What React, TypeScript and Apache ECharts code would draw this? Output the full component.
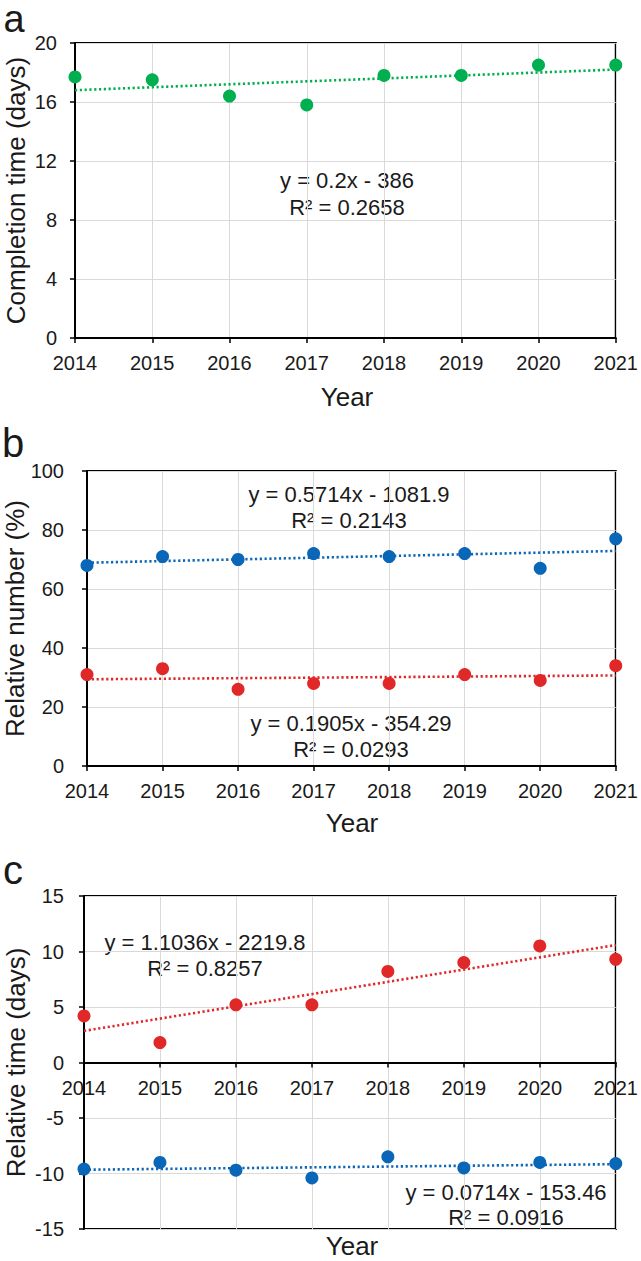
import React, { useEffect, useRef } from "react";
import * as echarts from "echarts";

const years = [2014, 2015, 2016, 2017, 2018, 2019, 2020, 2021];
const completionTime = [17.7, 17.5, 16.4, 15.8, 17.8, 17.8, 18.5, 18.5];
const relNumberBlue = [68, 71, 70, 72, 71, 72, 67, 77];
const relNumberRed = [31, 33, 26, 28, 28, 31, 29, 34];
const relTimeRed = [4.2, 1.8, 5.2, 5.2, 8.2, 9.0, 10.5, 9.3];
const relTimeBlue = [-9.6, -9.0, -9.7, -10.4, -8.5, -9.5, -9.0, -9.1];

// trendline end values (at 2014 and 2021)
const trendYears = [2014, 2021];
const trendA = [16.8, 18.2];
const trendBBlue = [68.9, 72.9];
const trendBRed = [29.4, 30.7];
const trendCRed = [2.85, 10.58];
const trendCBlue = [-9.66, -9.16];

const eqA = ["y = 0.2x - 386", "R² = 0.2658"];
const eqBBlue = ["y = 0.5714x - 1081.9", "R² = 0.2143"];
const eqBRed = ["y = 0.1905x - 354.29", "R² = 0.0293"];
const eqCRed = ["y = 1.1036x - 2219.8", "R² = 0.8257"];
const eqCBlue = ["y = 0.0714x - 153.46", "R² = 0.0916"];

const GREEN = "#00AF50";
const BLUE = "#0A66B6";
const RED = "#E12828";
const FONT = "'Liberation Sans', Arial, sans-serif";
const TXT = "#1a1a1a";
const GRIDC = "#d9d9d9";

const pair = (xs: number[], ys: number[]) => xs.map((x, i) => [x, ys[i]]);

function xAxisCfg(gridIndex: number, offset: number) {
  return {
    type: "value",
    gridIndex,
    position: "bottom",
    offset,
    min: 2014,
    max: 2021,
    interval: 1,
    axisLine: { show: true, onZero: false, lineStyle: { color: "#000", width: 2 } },
    axisTick: { show: true, length: 5, lineStyle: { color: "#000", width: 1.5 } },
    axisLabel: {
      color: TXT,
      fontSize: 20,
      fontFamily: FONT,
      margin: 15,
      formatter: (v: number) => String(v),
    },
    splitLine: { show: true, lineStyle: { color: GRIDC, width: 1 } },
  };
}

function yAxisCfg(gridIndex: number, min: number, max: number, interval: number, margin: number) {
  return {
    type: "value",
    gridIndex,
    min,
    max,
    interval,
    axisLine: { show: true, onZero: false, lineStyle: { color: "#000", width: 2 } },
    axisTick: { show: true, length: 5, lineStyle: { color: "#000", width: 1.5 } },
    axisLabel: { color: TXT, fontSize: 20, fontFamily: FONT, margin },
    splitLine: { show: true, lineStyle: { color: GRIDC, width: 1 } },
  };
}

function scatter(idx: number, data: number[], color: string) {
  return {
    type: "scatter",
    xAxisIndex: idx,
    yAxisIndex: idx,
    data: pair(years, data),
    symbol: "circle",
    symbolSize: 13,
    itemStyle: { color, opacity: 1 },
    z: 3,
  };
}

function trend(idx: number, data: number[], color: string) {
  return {
    type: "line",
    xAxisIndex: idx,
    yAxisIndex: idx,
    data: pair(trendYears, data),
    showSymbol: false,
    symbol: "none",
    lineStyle: { color, width: 2.6, type: [2.2, 2.6], opacity: 1 },
    z: 4,
  };
}

function txt(text: string, x: number, y: number, size: number, opts: any = {}) {
  return {
    type: "text",
    x,
    y,
    style: {
      text,
      fill: TXT,
      font: `${size}px ${FONT}`,
      lineHeight: Math.round(size * 0.8),
      align: "center",
      verticalAlign: "middle",
    },
    ...opts,
  };
}

export default function App() {
  const ref = useRef<HTMLDivElement>(null);
  useEffect(() => {
    if (!ref.current) return;
    const chart = echarts.init(ref.current, undefined, { renderer: "svg" });
    const gridBase = { show: true, borderColor: "#000", borderWidth: 2, containLabel: false };
    // panel c: x axis sits on the y = 0 line (333px tall grid spanning -15..15)
    const cZeroOffset = -333 / 2;
    chart.setOption({
      animation: false,
      backgroundColor: "#fff",
      grid: [
        { ...gridBase, left: 75, right: 24, top: 43, height: 295 },
        { ...gridBase, left: 87, right: 24, top: 471, height: 295 },
        { ...gridBase, left: 84, right: 22, top: 896, height: 333 },
      ],
      xAxis: [xAxisCfg(0, 0), xAxisCfg(1, 0), xAxisCfg(2, cZeroOffset)],
      yAxis: [
        yAxisCfg(0, 0, 20, 4, 18),
        yAxisCfg(1, 0, 100, 20, 23),
        yAxisCfg(2, -15, 15, 5, 20),
      ],
      series: [
        trend(0, trendA, GREEN),
        scatter(0, completionTime, GREEN),
        trend(1, trendBBlue, BLUE),
        trend(1, trendBRed, RED),
        scatter(1, relNumberBlue, BLUE),
        scatter(1, relNumberRed, RED),
        trend(2, trendCRed, RED),
        trend(2, trendCBlue, BLUE),
        scatter(2, relTimeRed, RED),
        scatter(2, relTimeBlue, BLUE),
      ],
      graphic: [
        txt("a", 14, 19, 38),
        txt("b", 13, 443, 40),
        txt("c", 13, 870, 40),
        txt("Completion time (days)", 16, 190.5, 26, { rotation: Math.PI / 2 }),
        txt("Relative number (%)", 15, 618.5, 26, { rotation: Math.PI / 2 }),
        txt("Relative time (days)", 16, 1062.5, 26, { rotation: Math.PI / 2 }),
        txt("Year", 347, 397, 26),
        txt("Year", 352, 823, 26),
        txt("Year", 352, 1246, 26),
        txt(eqA[0], 347, 180, 22),
        txt(eqA[1], 347, 207, 22),
        txt(eqBBlue[0], 349, 494, 22),
        txt(eqBBlue[1], 349, 520, 22),
        txt(eqBRed[0], 351, 723, 22),
        txt(eqBRed[1], 351, 749, 22),
        txt(eqCRed[0], 205, 942, 22),
        txt(eqCRed[1], 205, 968, 22),
        txt(eqCBlue[0], 506, 1192, 22),
        txt(eqCBlue[1], 506, 1217, 22),
      ],
    });
    return () => chart.dispose();
  }, []);
  return (
    <div
      ref={ref}
      style={{ position: "absolute", left: 0, top: 0, width: 641, height: 1261, background: "#fff" }}
    />
  );
}
